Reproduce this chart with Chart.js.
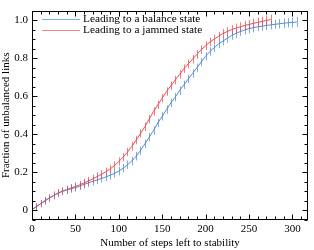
<!DOCTYPE html>
<html><head><meta charset="utf-8">
<script src="https://cdn.jsdelivr.net/npm/chart.js@4/dist/chart.umd.min.js"></script>
<style>html,body{margin:0;padding:0;background:#fff}#c{display:block}</style>
</head><body>
<canvas id="c" width="314" height="250"></canvas>
<script>
const xTicks = [0, 50, 100, 150, 200, 250, 300];
const yTicks = [0, 0.2, 0.4, 0.6, 0.8, 1];
const seriesNames = ["Leading to a balance state", "Leading to a jammed state"];

const stepsBalance = [0,5,10,15,20,25,30,35,40,45,50,55,60,65,70,75,80,85,90,95,100,105,110,115,120,125,130,135,140,145,150,155,160,165,170,175,180,185,190,195,200,205,210,215,220,225,230,235,240,245,250,255,260,265,270,275,280,285,290,295,300,305];
const fracBalance = [0.005,0.02,0.035,0.05,0.065,0.078,0.09,0.10,0.107,0.114,0.12,0.128,0.137,0.145,0.153,0.16,0.168,0.176,0.185,0.195,0.207,0.222,0.24,0.26,0.285,0.315,0.35,0.385,0.42,0.46,0.495,0.53,0.565,0.595,0.63,0.66,0.69,0.72,0.75,0.78,0.81,0.835,0.855,0.875,0.89,0.905,0.92,0.93,0.94,0.948,0.955,0.96,0.965,0.968,0.972,0.975,0.978,0.981,0.984,0.986,0.988,0.99];
const errBalance = [0.015,0.017,0.018,0.019,0.019,0.02,0.02,0.02,0.021,0.021,0.021,0.021,0.022,0.022,0.022,0.022,0.022,0.022,0.022,0.022,0.022,0.022,0.022,0.022,0.022,0.022,0.022,0.022,0.022,0.022,0.022,0.022,0.022,0.022,0.022,0.022,0.022,0.022,0.022,0.022,0.022,0.022,0.023,0.023,0.023,0.023,0.023,0.023,0.023,0.023,0.024,0.024,0.024,0.024,0.024,0.024,0.024,0.025,0.025,0.025,0.026,0.026];

const stepsJammed = [0,5,10,15,20,25,30,35,40,45,50,55,60,65,70,75,80,85,90,95,100,105,110,115,120,125,130,135,140,145,150,155,160,165,170,175,180,185,190,195,200,205,210,215,220,225,230,235,240,245,250,255,260,265,270,275];
const fracJammed = [0.005,0.02,0.036,0.052,0.066,0.08,0.092,0.102,0.11,0.118,0.126,0.135,0.145,0.155,0.166,0.178,0.19,0.203,0.218,0.236,0.257,0.28,0.307,0.337,0.37,0.405,0.44,0.48,0.52,0.555,0.59,0.625,0.655,0.685,0.715,0.745,0.77,0.795,0.82,0.845,0.865,0.885,0.9,0.915,0.93,0.94,0.95,0.958,0.965,0.972,0.977,0.983,0.988,0.993,0.998,1.003];
const errJammed = [0.015,0.017,0.018,0.019,0.019,0.02,0.02,0.02,0.021,0.021,0.021,0.021,0.022,0.022,0.022,0.022,0.022,0.022,0.022,0.022,0.022,0.022,0.022,0.022,0.022,0.022,0.022,0.022,0.022,0.022,0.022,0.022,0.022,0.022,0.022,0.022,0.023,0.023,0.023,0.023,0.023,0.023,0.023,0.023,0.023,0.024,0.024,0.024,0.024,0.024,0.024,0.025,0.025,0.025,0.026,0.026];

const FONT = "'Liberation Serif', 'DejaVu Serif', serif";
const BLUE = 'rgba(74,134,208,0.95)';
const RED = 'rgba(230,70,78,0.95)';
const BLUE_ERR = 'rgba(74,134,208,0.7)';
const RED_ERR = 'rgba(230,70,78,0.7)';
const BLUE_LEG = '#7fb0e4';
const RED_LEG = '#f0848a';

function pts(xs, ys) { return xs.map((x, i) => ({x: x, y: ys[i]})); }

const errorBars = {
  id: 'errorBars',
  afterDatasetsDraw(chart) {
    const {ctx, chartArea, scales} = chart;
    const sets = [[errBalance, BLUE_ERR], [errJammed, RED_ERR]];
    ctx.save();
    ctx.beginPath();
    ctx.rect(chartArea.left, chartArea.top, chartArea.right - chartArea.left, chartArea.bottom - chartArea.top);
    ctx.clip();
    chart.data.datasets.forEach((ds, di) => {
      const errs = sets[di][0];
      ctx.strokeStyle = sets[di][1];
      ctx.lineWidth = 1;
      ds.data.forEach((p, i) => {
        const px = Math.round(scales.x.getPixelForValue(p.x)) + 0.5;
        const y1 = scales.y.getPixelForValue(p.y - errs[i]);
        const y2 = scales.y.getPixelForValue(p.y + errs[i]);
        ctx.beginPath();
        ctx.moveTo(px, y1);
        ctx.lineTo(px, y2);
        ctx.stroke();
      });
    });
    ctx.restore();
  }
};

const frame = {
  id: 'frame',
  afterDraw(chart) {
    const {ctx, chartArea: a, scales} = chart;
    ctx.save();
    ctx.strokeStyle = '#000';
    ctx.lineWidth = 1;
    const L = Math.round(a.left) + 0.5, R = Math.round(a.right) - 0.5;
    const T = Math.round(a.top) + 0.5, B = Math.round(a.bottom) - 0.5;
    ctx.strokeRect(L, T, R - L, B - T);
    ctx.beginPath();
    for (let v = 0; v <= scales.x.max; v += 10) {
      const px = Math.round(scales.x.getPixelForValue(v)) + 0.5;
      const len = (v % 50 === 0) ? 5 : 3;
      ctx.moveTo(px, B); ctx.lineTo(px, B - len);
      ctx.moveTo(px, T); ctx.lineTo(px, T + len);
    }
    for (let k = -1; k <= 21; k++) {
      const v = k * 0.05;
      if (v < scales.y.min - 1e-9 || v > scales.y.max + 1e-9) continue;
      const py = Math.round(scales.y.getPixelForValue(v)) + 0.5;
      const len = (k % 4 === 0) ? 5 : 3;
      ctx.moveTo(L, py); ctx.lineTo(L + len, py);
      ctx.moveTo(R, py); ctx.lineTo(R - len, py);
    }
    ctx.stroke();
    ctx.font = "11.3px " + FONT;
    ctx.textBaseline = 'middle';
    ctx.fillStyle = '#000';
    const leg = [[BLUE_LEG, seriesNames[0], 19.5], [RED_LEG, seriesNames[1], 30.5]];
    leg.forEach(([c, t, y]) => {
      ctx.strokeStyle = c;
      ctx.beginPath(); ctx.moveTo(42, y); ctx.lineTo(80, y); ctx.stroke();
      ctx.fillText(t, 83, y);
    });
    ctx.restore();
  }
};

new Chart(document.getElementById('c'), {
  type: 'scatter',
  data: {
    datasets: [
      {label: seriesNames[0], data: pts(stepsBalance, fracBalance), showLine: true, borderColor: BLUE, backgroundColor: BLUE, borderWidth: 1, pointRadius: 0, tension: 0},
      {label: seriesNames[1], data: pts(stepsJammed, fracJammed), showLine: true, borderColor: RED, backgroundColor: RED, borderWidth: 1, pointRadius: 0, tension: 0}
    ]
  },
  options: {
    responsive: false,
    animation: false,
    devicePixelRatio: 1,
    layout: {padding: {top: 5, right: 6, left: 0, bottom: 0}},
    plugins: {legend: {display: false}, tooltip: {enabled: false}},
    scales: {
      x: {
        type: 'linear', min: 0, max: 318,
        afterBuildTicks: s => { s.ticks = xTicks.map(v => ({value: v})); },
        afterFit: s => { s.height = 30; },
        grid: {display: false, drawTicks: false},
        border: {display: false},
        ticks: {color: '#000', font: {family: FONT, size: 11}, padding: 3, maxRotation: 0, autoSkip: false},
        title: {display: true, text: 'Number of steps left to stability', color: '#000', font: {family: FONT, size: 11}, padding: {top: 0, bottom: 0}}
      },
      y: {
        type: 'linear', min: -0.05, max: 1.05,
        afterBuildTicks: s => { s.ticks = yTicks.map(v => ({value: v})); },
        afterFit: s => { s.width = 32; },
        grid: {display: false, drawTicks: false},
        border: {display: false},
        ticks: {color: '#000', font: {family: FONT, size: 11}, padding: 4, autoSkip: false},
        title: {display: true, text: 'Fraction of unbalanced links', color: '#000', font: {family: FONT, size: 11}, padding: {top: 0, bottom: 2}}
      }
    }
  },
  plugins: [errorBars, frame]
});
</script>
</body></html>
